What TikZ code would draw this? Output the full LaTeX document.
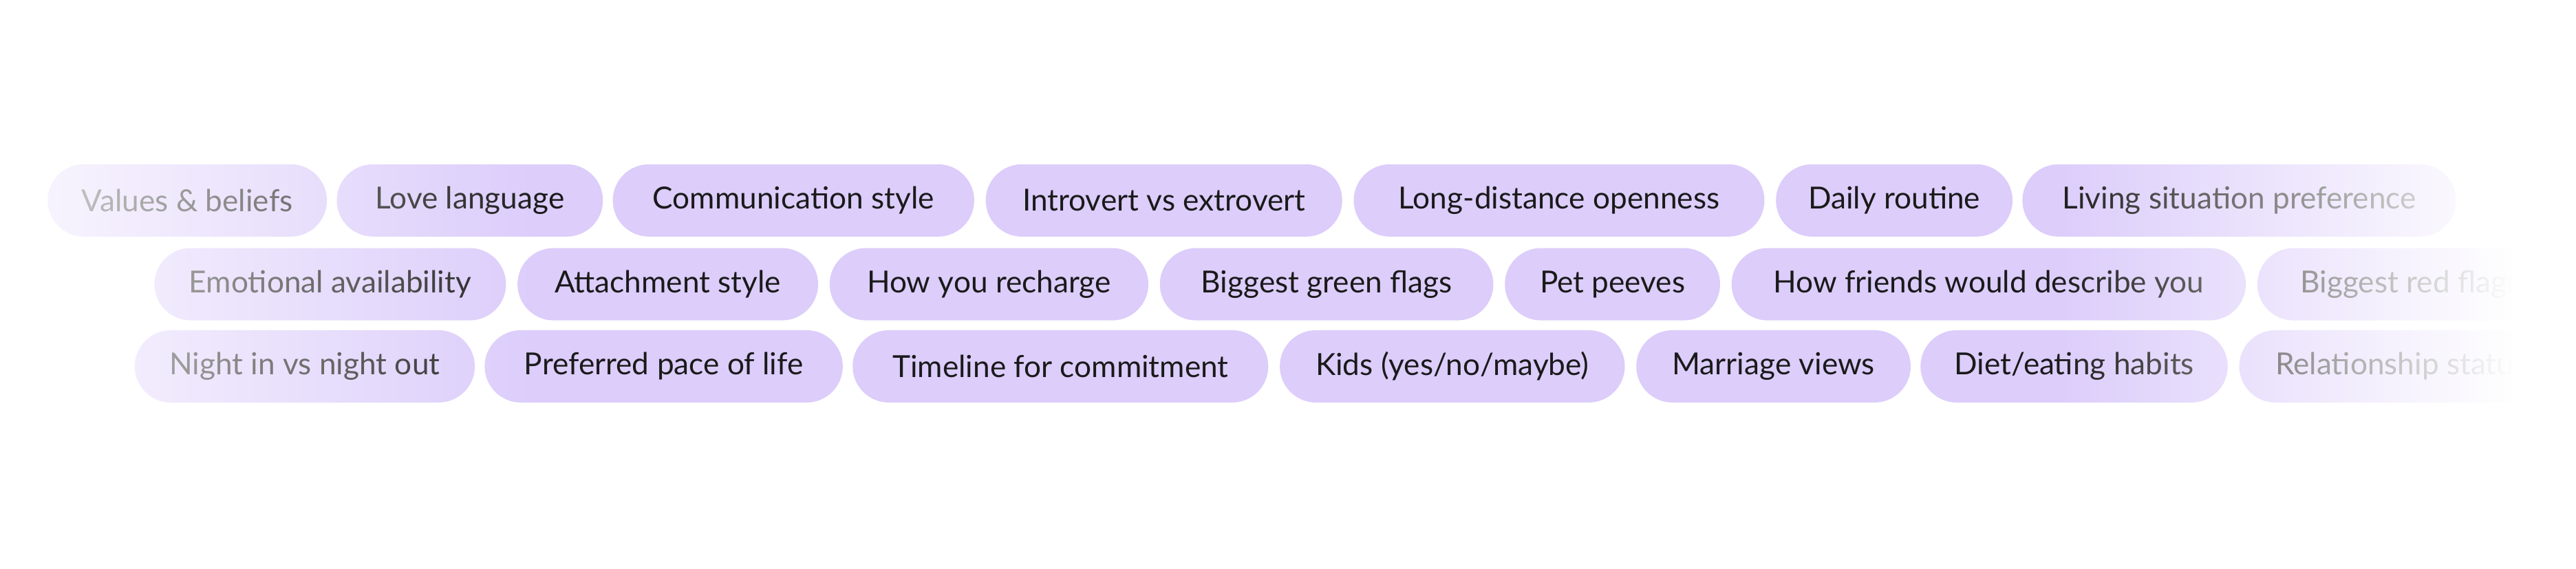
\documentclass[tikz,border=0pt]{standalone}
\usepackage{fontspec}
\setmainfont{Lato}
\usetikzlibrary{fadings}
\definecolor{pillc}{HTML}{DCCDFB}
\definecolor{txtc}{HTML}{1A1A1A}
\begin{document}
\begin{tikzpicture}[x=1pt,y=-1pt,
  pill/.style={fill=pillc,rounded corners=22pt,minimum height=44pt,inner sep=0pt,
    text=txtc,font=\fontsize{18.5}{20}\selectfont,anchor=center}]
\useasboundingbox (0,0) rectangle (1568,346);
\fill[white] (0,0) rectangle (1568,346);
\newcommand\pl[5]{\node[pill,minimum width={#3-#2}] (#1) at ({(#2+#3)/2},#4) {#5};}
% row 1
\pl{a1}{29}{199}{122}{Values \& beliefs}
\pl{a2}{205}{367}{122}{Love language}
\pl{a3}{373}{593}{122}{Communication style}
\pl{a4}{600}{817}{122}{Introvert vs extrovert}
\pl{a5}{824}{1074}{122}{Long-distance openness}
\pl{a6}{1081}{1225}{122}{Daily routine}
\pl{a7}{1231}{1495}{122}{Living situation preference}
% row 2
\pl{b1}{94}{308}{173}{Emotional availability}
\pl{b2}{315}{498}{173}{Attachment style}
\pl{b3}{505}{699}{173}{How you recharge}
\pl{b4}{706}{909}{173}{Biggest green flags}
\pl{b5}{916}{1047}{173}{Pet peeves}
\pl{b6}{1054}{1367}{173}{How friends would describe you}
\pl{b7}{1374}{1560}{173}{Biggest red flags}
% row 3
\pl{c1}{82}{289}{223}{Night in vs night out}
\pl{c2}{295}{513}{223}{Preferred pace of life}
\pl{c3}{519}{772}{223}{Timeline for commitment}
\pl{c4}{779}{989}{223}{Kids (yes/no/maybe)}
\pl{c5}{996}{1163}{223}{Marriage views}
\pl{c6}{1169}{1356}{223}{Diet/eating habits}
\pl{c7}{1363}{1560}{223}{Relationship status}
% fades
\fill[white,fill opacity=0.85,path fading=east] (0,90) rectangle (330,255);
\fill[white,path fading=west] (1250,90) rectangle (1530,255);
\fill[white] (1530,90) rectangle (1568,255);
\end{tikzpicture}
\end{document}
